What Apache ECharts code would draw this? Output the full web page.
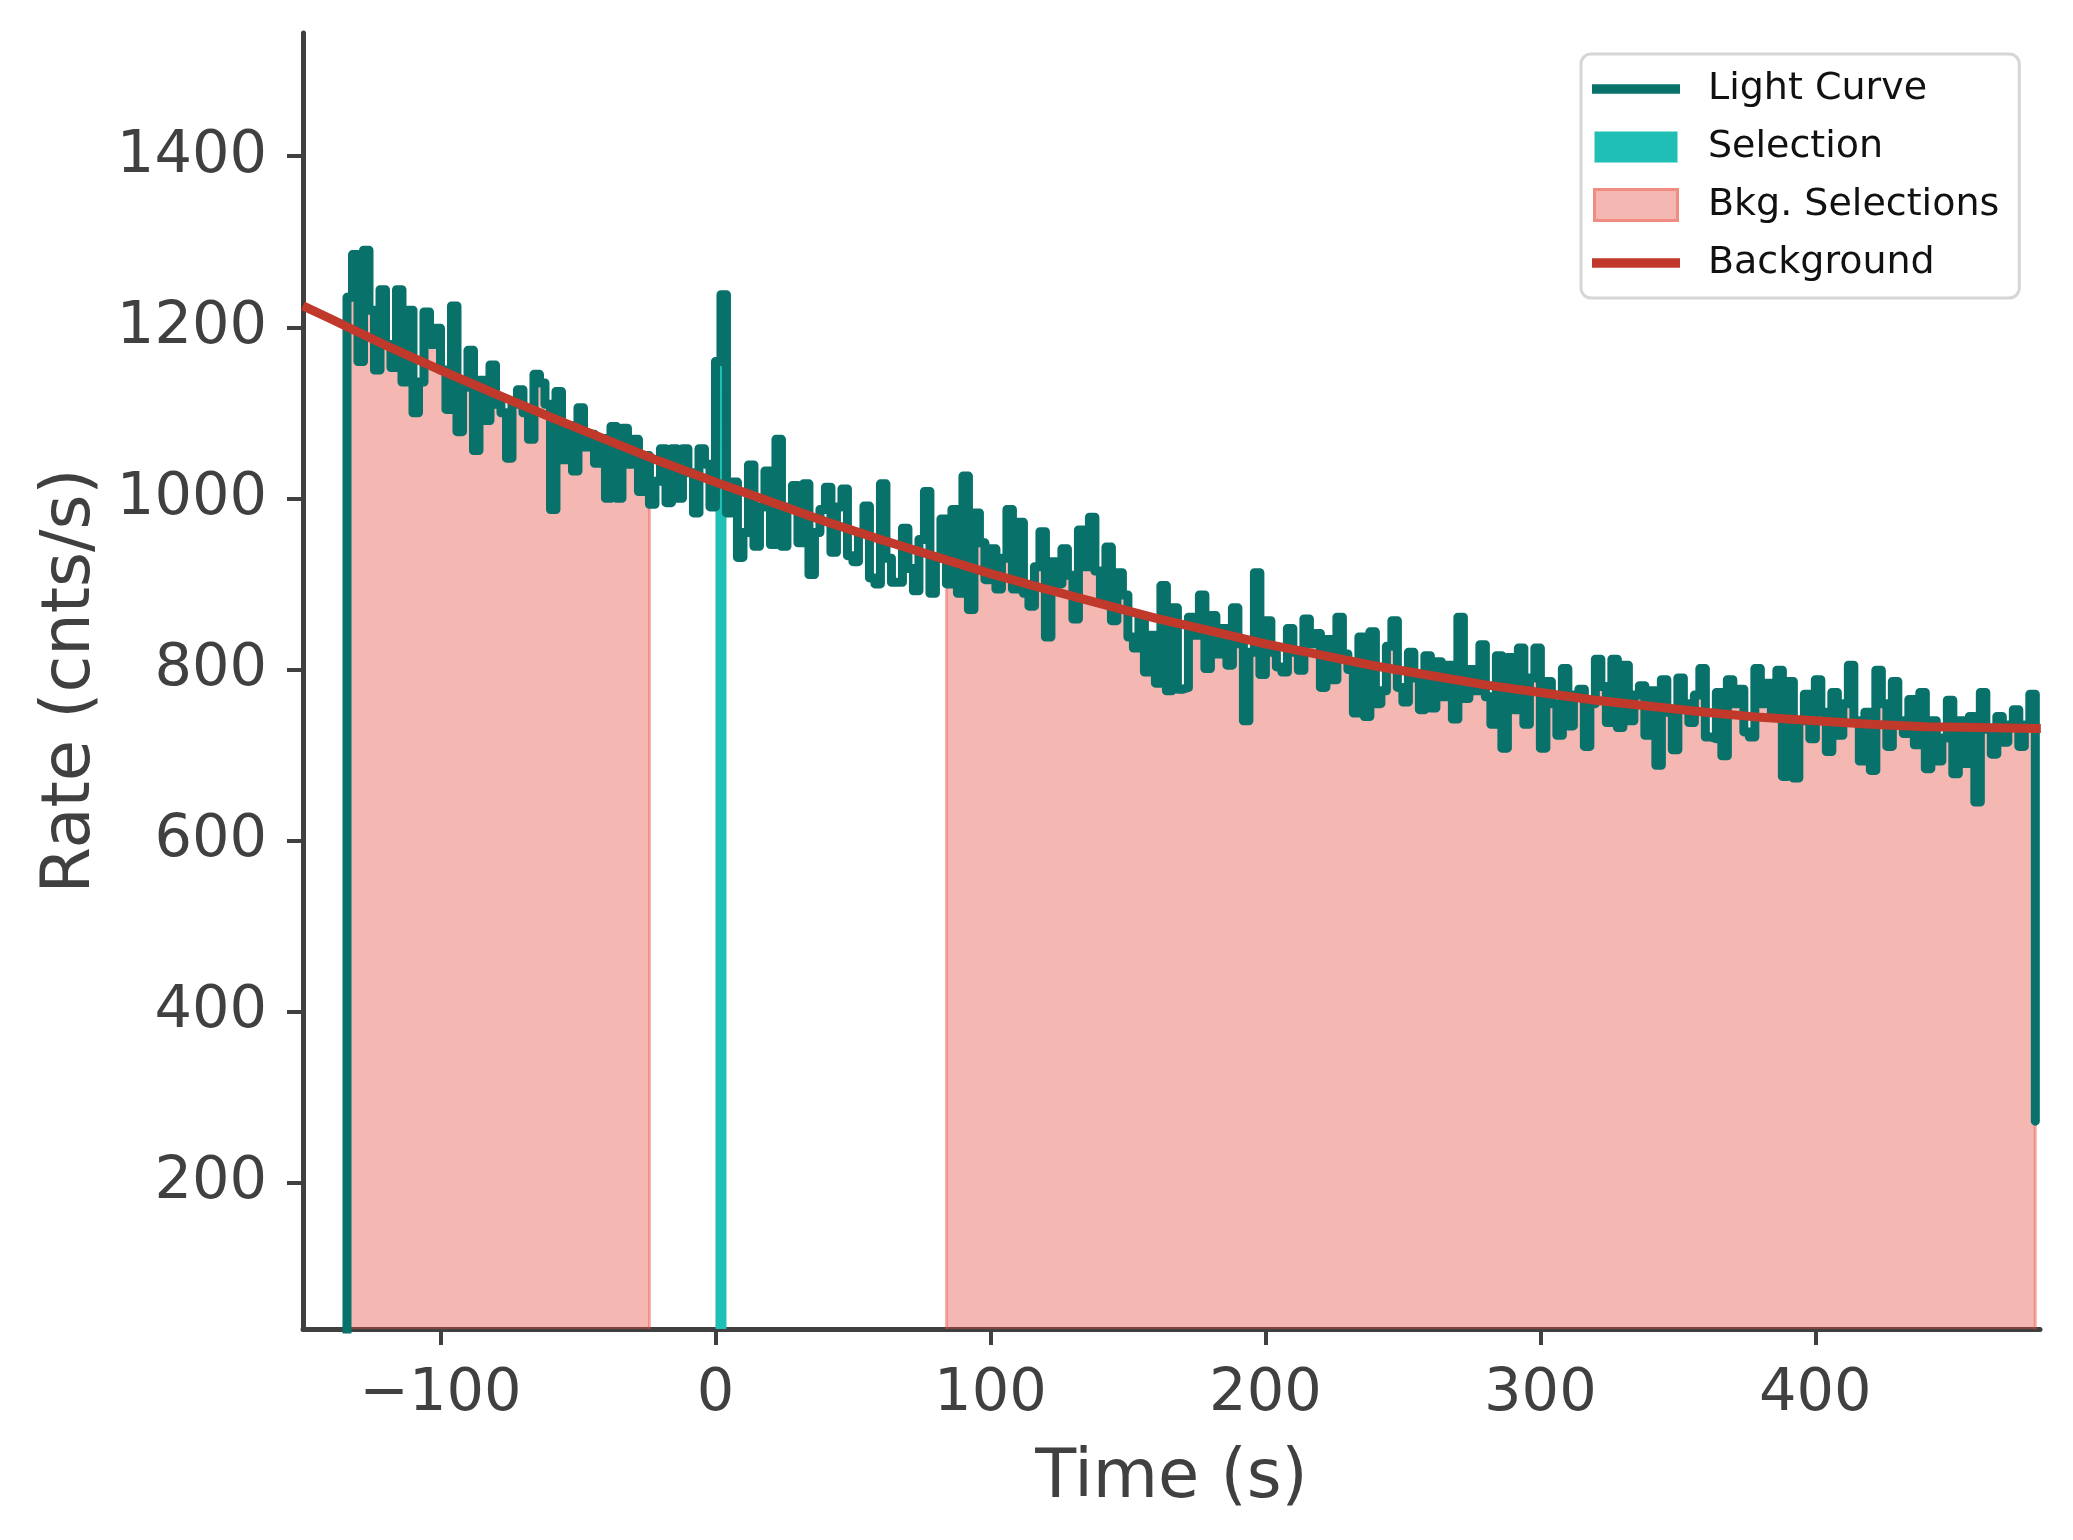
<!DOCTYPE html>
<html>
<head>
<meta charset="utf-8">
<script src="https://cdn.jsdelivr.net/npm/echarts@6/dist/echarts.min.js"></script>
<style>
html,body{margin:0;padding:0;background:#fff;}
#chart{width:2073px;height:1540px;}
</style>
</head>
<body>
<div id="chart"></div>
<script>
// ---------------- data ----------------
// light curve, 2-s bins starting at binStart
const binStart = -134;
const binWidth = 2;
const preRate = 0;          // partial bin before the first full bin
const lastPartialRate = 272; // partial bin after the last full bin
const rates = [
1235,1285,1160,1290,1220,1150,1244,1180,1153,1244,
1136,1220,1100,1136,1218,1180,1199,1150,1104,1225,
1078,1130,1173,1056,1138,1091,1156,1110,1100,1047,
1110,1127,1100,1069,1145,1135,1110,987,1125,1045,
1085,1032,1106,1060,1075,1041,1070,1000,1084,1000,
1082,1040,1069,1008,1050,993,1020,1058,995,1058,
1000,1058,1030,983,1058,1040,990,1160,1238,983,
1019,931,960,1039,944,990,1032,946,1069,944,
990,1015,948,1017,911,960,987,1013,937,990,
1011,933,926,960,991,907,900,1017,930,902,
902,965,918,892,952,1008,889,930,976,900,
987,889,1026,870,983,948,905,941,894,930,
987,894,972,889,874,920,961,838,926,900,
941,910,859,963,920,978,915,885,943,857,
913,887,838,825,860,797,840,784,898,775,
872,777,779,861,840,887,801,863,818,848,
805,872,830,740,820,913,794,857,820,803,
797,848,820,799,859,830,842,779,835,788,
861,818,800,749,838,745,844,760,775,827,
857,779,762,820,790,753,816,755,809,768,
805,742,861,766,800,775,829,768,736,816,
708,814,753,825,736,790,825,708,786,760,
723,801,734,770,777,710,760,812,780,738,
812,732,805,740,770,781,723,775,688,788,
750,706,790,760,738,770,801,721,719,773,
699,788,760,777,727,721,801,760,784,745,
799,675,786,673,740,771,719,788,750,704,
773,723,760,805,740,693,750,682,799,760,
710,786,740,725,765,712,773,684,740,693,
720,764,678,740,690,745,645,773,730,701,
745,715,735,753,710,735,771
];
// background model
const bkgTimes = [-150,-140,-120,-100,-80,-60,-40,-20,0,20,40,60,80,100,120,140,160,180,200,220,240,260,280,300,320,340,360,380,400,420,440,460,480,482];
const bkgRates = [1225,1210,1179,1150,1122,1095,1069,1043,1019,996,973,952,932,912,894,877,860,845,830,817,804,793,782,773,764,757,750,744,740,736,733,732,731,731];
// selections
const srcSelection = [0, 4];
const bkgSelections = [[-134, -24], [84, 480]];
// axes
const xMin = -150, xMax = 481.7;
const yMin = 29, yMax = 1544;
const xTicks = [-100, 0, 100, 200, 300, 400];
const yTicks = [200, 400, 600, 800, 1000, 1200, 1400];

// ---------------- build ----------------
const FONT = 'DejaVu Sans';
const AX = '#404040';
const C_LC = '#07716a';
const C_SEL = '#20bfb6';
const C_BKGFILL = 'rgba(231,76,60,0.4)';
const C_BKG = '#c0392b';

const lc = [[binStart - binWidth, preRate]];
rates.forEach((v, i) => lc.push([binStart + i * binWidth, v]));
const tEnd = binStart + rates.length * binWidth;
lc.push([tEnd, lastPartialRate]);

function sliceStep(t0, t1) {
  const pts = [];
  let last = null;
  rates.forEach((v, i) => {
    const t = binStart + i * binWidth;
    if (t >= t0 - 1e-9 && t < t1 - 1e-9) { pts.push([t, v]); last = v; }
  });
  pts.push([t1, last]);
  return pts;
}
function rateAt(t, side) {
  const i = Math.round((t - binStart) / binWidth) + (side === 'right' ? -1 : 0);
  return rates[Math.max(0, Math.min(rates.length - 1, i))];
}

const series = [];
bkgSelections.forEach(([a, b]) => {
  series.push({
    name: 'Bkg. Selections', type: 'line', step: 'end', symbol: 'none',
    data: sliceStep(a, b), lineStyle: { width: 0 },
    areaStyle: { color: C_BKGFILL, origin: 'start', opacity: 1 },
    z: 1, silent: true
  });
  [[a, 'left'], [b, 'right']].forEach(([t, side]) => {
    series.push({
      name: 'Bkg. Selections', type: 'line', symbol: 'none',
      data: [[t, yMin], [t, rateAt(t, side)]],
      lineStyle: { width: 3, color: C_BKGFILL }, z: 2, silent: true
    });
  });
});
series.push({
  name: 'Selection', type: 'line', step: 'end', symbol: 'none',
  data: sliceStep(srcSelection[0], srcSelection[1]), lineStyle: { width: 0 },
  areaStyle: { color: C_SEL, origin: 'start', opacity: 1 }, z: 1, silent: true
});
series.push({
  name: 'Light Curve', type: 'line', step: 'end', symbol: 'none', data: lc,
  lineStyle: { width: 9, color: C_LC, cap: 'round', join: 'round' }, z: 3, silent: true
});
series.push({
  name: 'Background', type: 'line', symbol: 'none',
  data: bkgTimes.map((t, i) => [t, bkgRates[i]]),
  lineStyle: { width: 9, color: C_BKG, cap: 'butt', join: 'round' }, z: 4, silent: true
});

const lineIcon = 'path://M0,0H88V9.5H0Z';
const rectIcon = 'path://M0,0H83V31H0Z';

const option = {
  animation: false,
  backgroundColor: '#fff',
  grid: { left: 303, right: 33, top: 33, bottom: 211 },
  xAxis: {
    type: 'value', min: xMin, max: xMax,
    name: 'Time (s)', nameLocation: 'middle', nameGap: 117, nameMoveOverlap: false,
    nameTextStyle: { fontFamily: FONT, fontSize: 67, color: AX },
    axisLine: { show: true, onZero: false, lineStyle: { color: AX, width: 5 } },
    axisTick: { show: true, customValues: xTicks, length: 16, lineStyle: { color: AX, width: 4 } },
    axisLabel: { customValues: xTicks, fontFamily: FONT, fontSize: 59, color: AX, margin: 36,
      formatter: v => String(v).replace('-', '\u2212') },
    splitLine: { show: false }
  },
  yAxis: {
    type: 'value', min: yMin, max: yMax,
    name: 'Rate (cnts/s)', nameLocation: 'middle', nameGap: 198, nameMoveOverlap: false,
    nameTextStyle: { fontFamily: FONT, fontSize: 67, color: AX },
    axisLine: { show: true, onZero: false, lineStyle: { color: AX, width: 5 } },
    axisTick: { show: true, customValues: yTicks, length: 16, lineStyle: { color: AX, width: 4 } },
    axisLabel: { customValues: yTicks, fontFamily: FONT, fontSize: 59, color: AX, margin: 36,
      formatter: v => String(v) },
    splitLine: { show: false }
  },
  legend: {
    orient: 'vertical', left: 1581, top: 54,
    selectedMode: false,
    backgroundColor: '#fff', borderColor: '#d6d6d6', borderWidth: 3, borderRadius: 10,
    padding: [16, 20, 16, 11],
    itemWidth: 88, itemHeight: 31, itemGap: 20,
    textStyle: { fontFamily: FONT, fontSize: 38, color: '#111', lineHeight: 31, padding: [0, 0, 0, 23] },
    data: [
      { name: 'Light Curve', icon: lineIcon, itemStyle: { color: C_LC, borderWidth: 0 } },
      { name: 'Selection', icon: rectIcon, itemStyle: { color: C_SEL, borderWidth: 0 } },
      { name: 'Bkg. Selections', icon: rectIcon, itemStyle: { color: '#f5b7b1', borderColor: '#f08c82', borderWidth: 3 } },
      { name: 'Background', icon: lineIcon, itemStyle: { color: C_BKG, borderWidth: 0 } }
    ]
  },
  series: series
};

const chart = echarts.init(document.getElementById('chart'), null, { renderer: 'canvas', width: 2073, height: 1540 });
chart.setOption(option);
</script>
</body>
</html>
